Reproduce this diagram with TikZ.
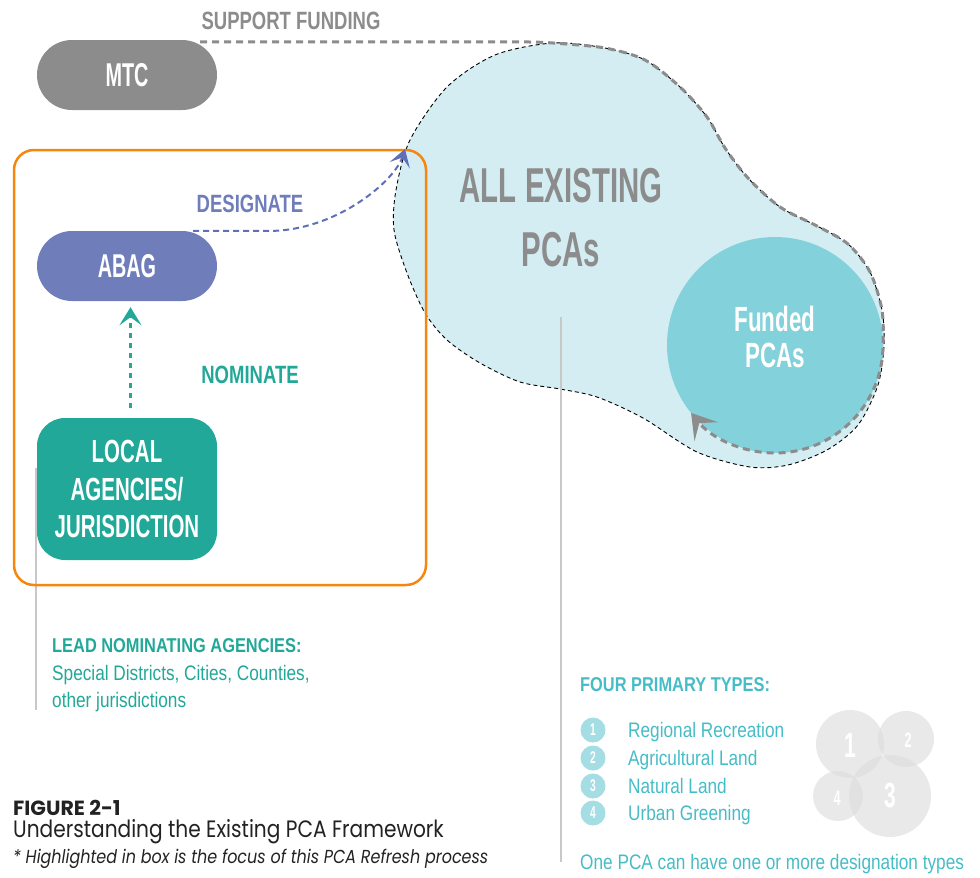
\documentclass[tikz,border=0pt]{standalone}
\usepackage{fontspec}
\setmainfont{Liberation Sans}
\newfontfamily\fA[FakeStretch=0.6]{Liberation Sans Bold}
\newfontfamily\fD[FakeStretch=0.64]{Liberation Sans Bold}
\newfontfamily\fB[FakeStretch=0.74]{Liberation Sans}
\newfontfamily\fC[FakeStretch=0.82]{Liberation Sans}
\newfontfamily\fCap[FakeStretch=0.85]{Poppins}
\newfontfamily\fCapW{Poppins}
\usetikzlibrary{arrows.meta,calc}
\definecolor{mtcgray}{HTML}{8C8C8C}
\definecolor{abagc}{HTML}{6F7DBB}
\definecolor{desc}{HTML}{5F70B8}
\definecolor{tealc}{HTML}{22A898}
\definecolor{orangec}{HTML}{F7860F}
\definecolor{blobc}{HTML}{D3EDF2}
\definecolor{fundc}{HTML}{83D1DA}
\definecolor{cyanc}{HTML}{46BCC6}
\definecolor{listc}{HTML}{A5DDE4}
\definecolor{vlinec}{HTML}{C8C8C8}
\definecolor{capc}{HTML}{222222}
\begin{document}
\begin{tikzpicture}[x=1pt,y=-1pt,
  pill/.style={rounded corners=35pt, minimum width=180pt, minimum height=70pt, inner sep=0pt, text=white, font=\fA\fontsize{33}{33}\selectfont},
  bigw/.style={text=white, inner sep=0pt, align=center, font=\fD\fontsize{32}{37.5}\selectfont},
  lbl/.style={inner sep=0pt, anchor=base, font=\fB\bfseries\fontsize{25}{25}\selectfont},
  body/.style={inner sep=0pt, anchor=base west, font=\fC\fontsize{21}{21}\selectfont},
  head/.style={inner sep=0pt, anchor=base west, font=\fC\bfseries\fontsize{20}{20}\selectfont},
  listdot/.style={circle, fill=listc, minimum size=25pt, inner sep=0pt, text=white, font=\fA\fontsize{17}{17}\selectfont},
  venn/.style={fill=black!14, fill opacity=0.6},
  vennnum/.style={text=white, inner sep=0pt, font=\fA},
  vline/.style={draw=vlinec, line width=1.5pt}
]
\useasboundingbox (0,0) rectangle (980,878);

% ---- blob of all existing PCAs
\fill[blobc] plot[smooth cycle, tension=0.5] coordinates {
  (553,43) (605,48) (645,60) (680,87) (707,117) (725,148) (748,178) (780,207)
  (817,226) (848,244) (870,272) (882,310) (884,345) (878,385) (858,425) (827,450)
  (788,465) (750,467) (697,452) (643,418) (597,397) (560,389) (520,382) (480,363)
  (447,340) (425,313) (407,273) (394,230) (396,190) (410,140) (447,87) (495,55)};
\draw[black, line width=0.9pt, dash pattern=on 4pt off 3pt] plot[smooth cycle, tension=0.5] coordinates {
  (553,43) (605,48) (645,60) (680,87) (707,117) (725,148) (748,178) (780,207)
  (817,226) (848,244) (870,272) (882,310) (884,345) (878,385) (858,425) (827,450)
  (788,465) (750,467) (697,452) (643,418) (597,397) (560,389) (520,382) (480,363)
  (447,340) (425,313) (407,273) (394,230) (396,190) (410,140) (447,87) (495,55)};

\node[circle, fill=fundc, minimum size=216pt, inner sep=0pt] (funded) at (775,345) {};
\node[text=white, inner sep=0pt, align=center, font=\fD\fontsize{35}{36}\selectfont] (fundedlbl) at (775,337) {Funded\\PCAs};

\node[text=mtcgray, inner sep=0pt, align=center, font=\fA\fontsize{49}{64}\selectfont] (allpca) at (561,217.5) {ALL EXISTING\\PCAs};

\draw[vline] (561,317) -- (561,862);
\draw[vline] (36,468) -- (36,710);

% ---- nodes
\node[pill, fill=mtcgray] (mtc) at (127,75) {MTC};
\node[pill, fill=abagc] (abag) at (127,266) {ABAG};
\node[bigw, fill=tealc, rounded corners=28pt, minimum width=180pt, minimum height=142pt] (local) at (127,489) {LOCAL\\AGENCIES/\\JURISDICTION};

% ---- focus box
\draw[orangec, line width=2.5pt, rounded corners=20pt] (14,150) rectangle (426,585);

% ---- support funding connector
\coordinate (sf0) at ([xshift=-17pt,yshift=-2pt]mtc.north east);
\draw[mtcgray, line width=3pt, dash pattern=on 7pt off 5pt, -{Stealth[length=24pt, width=30pt, inset=11pt]}]
  (sf0) -- (530,42) -- plot[smooth, tension=0.5] coordinates {(530,42) (553,43) (605,48) (645,60) (680,87) (707,117) (725,148) (748,178) (780,207) (817,226) (848,244) (870,272) (882,310) (883,345)}
  arc[start angle=0, end angle=141, radius=108];
\node[lbl, text=mtcgray] (sflbl) at (291,29) {SUPPORT FUNDING};

% ---- designate connector
\coordinate (pcatip) at (405,149);
\draw[desc, line width=2pt, dash pattern=on 6pt off 4pt, -{Stealth[length=17pt, width=21pt, inset=8pt]}]
  ([xshift=-24pt]abag.north east) -- ++(82,0) .. controls +(65,-3) and (395,180) .. (pcatip);
\node[lbl, text=abagc] (deslbl) at (250,212) {DESIGNATE};

% ---- nominate connector
\draw[tealc, line width=2.5pt, dash pattern=on 5pt off 5pt, -{Stealth[length=18pt, width=22pt, inset=8pt]}]
  ([xshift=3.5pt,yshift=10pt]local.north) -- ([xshift=3.5pt,yshift=-6pt]abag.south);
\node[lbl, text=tealc] (nomlbl) at (250,383) {NOMINATE};

% ---- lead nominating agencies
\node[head, text=tealc] (lead) at (52,652) {LEAD NOMINATING AGENCIES:};
\node[body, text=tealc] (lead2) at (52,680) {Special Districts, Cities, Counties,};
\node[body, text=tealc] (lead3) at (52,707) {other jurisdictions};

% ---- four primary types
\node[head, text=cyanc] (four) at (580,691) {FOUR PRIMARY TYPES:};
\foreach \n/\t/\yy in {1/Regional Recreation/737, 2/Agricultural Land/765, 3/Natural Land/793, 4/Urban Greening/820} {
  \node[listdot] (dot\n) at (593,\yy-7) {\n};
  \node[body, text=cyanc] (type\n) at (628,\yy) {\t};
}
\node[body, text=cyanc] (onepca) at (580,869) {One PCA can have one or more designation types};

% ---- venn
\fill[venn] (850,744) circle[radius=34];
\fill[venn] (906,739) circle[radius=28];
\fill[venn] (890,796) circle[radius=41];
\fill[venn] (838,796) circle[radius=25];
\node[vennnum, font=\fA\fontsize{35}{35}\selectfont] (v1) at (850,745) {1};
\node[vennnum, font=\fA\fontsize{21}{21}\selectfont] (v2) at (908,740) {2};
\node[vennnum, font=\fA\fontsize{35}{35}\selectfont] (v3) at (890,795) {3};
\node[vennnum, font=\fA\fontsize{21}{21}\selectfont] (v4) at (837,798) {4};

% ---- caption
\node[inner sep=0pt, anchor=base west, text=capc, font=\fCapW\bfseries\fontsize{20.5}{20.5}\selectfont] (fig) at (13,815) {FIGURE 2-1};
\node[inner sep=0pt, anchor=base west, text=capc, font=\fCap\fontsize{23.7}{23.7}\selectfont] (figtitle) at (13,837) {Understanding the Existing PCA Framework};
\node[inner sep=0pt, anchor=base west, text=capc, font=\fCap\itshape\fontsize{18.8}{18.8}\selectfont] (fignote) at (13,863) {* Highlighted in box is the focus of this PCA Refresh process};
\end{tikzpicture}
\end{document}
